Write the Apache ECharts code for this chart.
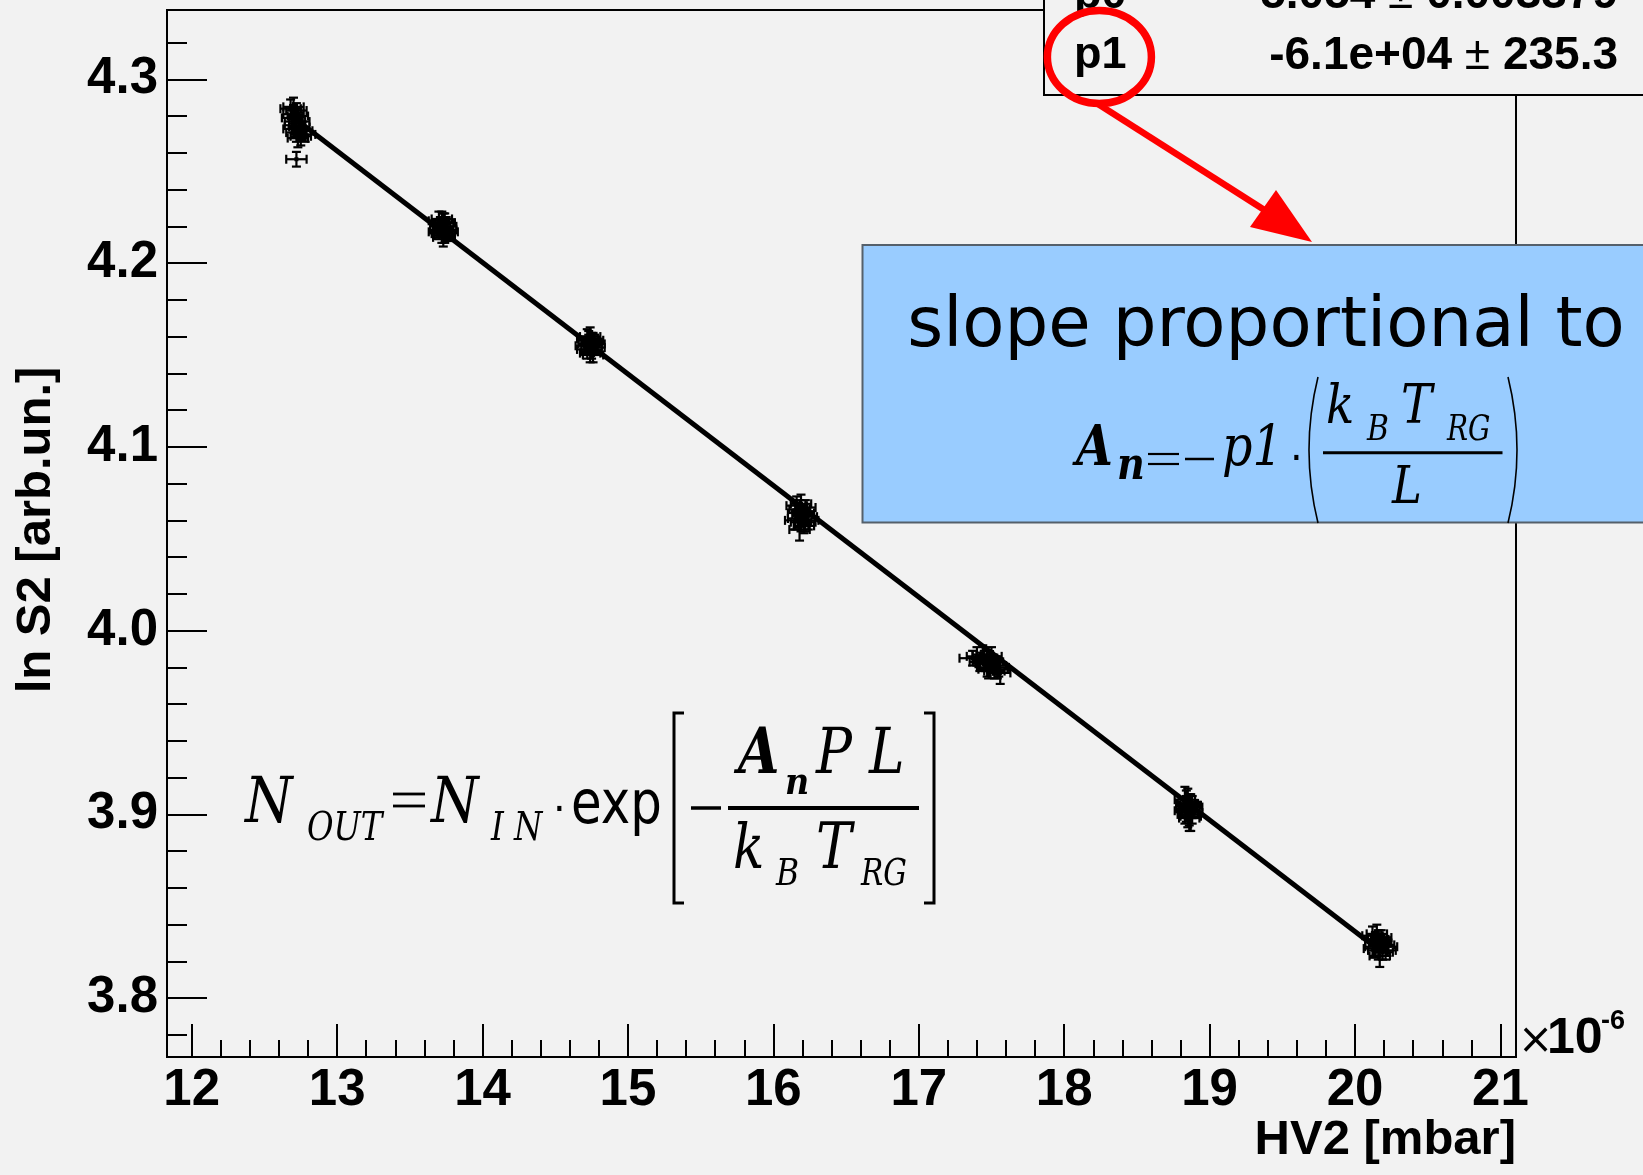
<!DOCTYPE html>
<html><head><meta charset="utf-8">
<script src="https://cdn.jsdelivr.net/npm/echarts@6/dist/echarts.min.js"></script>
<style>html,body{margin:0;padding:0;background:#f2f2f2}#c{width:1643px;height:1175px}</style>
</head><body><div id="c"></div>
<script>
// ---- data (HV2 in 1e-6 mbar, ln S2) ----
const hv2 = [
 12.68,12.70,12.72,12.69,12.71,12.73,12.70,12.72,12.74,12.76,12.75,12.78,12.72,12.70,12.74,12.71,12.73,
 13.70,13.72,13.74,13.71,13.73,13.75,13.72,13.74,13.76,13.70,13.73,13.71,13.75,13.73,
 14.72,14.74,14.76,14.73,14.75,14.77,14.72,14.74,14.76,14.75,14.73,14.75,14.77,14.71,
 16.16,16.19,16.22,16.17,16.20,16.23,16.15,16.19,16.21,16.24,16.18,16.18,16.21,16.17,16.22,
 17.37,17.40,17.44,17.47,17.50,17.42,17.46,17.49,17.53,17.48,17.52,17.56,17.55,17.45,17.51,17.47,17.54,
 18.83,18.85,18.87,18.84,18.86,18.88,18.85,18.87,18.83,18.86,18.84,18.88,18.86,
 20.12,20.15,20.18,20.14,20.17,20.20,20.13,20.16,20.19,20.22,20.17,20.16,20.18,20.14,20.21
];
const lnS2 = [
 4.284,4.285,4.283,4.279,4.277,4.280,4.273,4.271,4.274,4.272,4.269,4.270,4.2565,4.281,4.277,4.275,4.268,
 4.223,4.224,4.222,4.220,4.219,4.220,4.216,4.215,4.217,4.217,4.222,4.218,4.218,4.214,
 4.159,4.160,4.158,4.156,4.155,4.154,4.153,4.151,4.150,4.157,4.158,4.152,4.156,4.155,
 4.068,4.069,4.067,4.064,4.063,4.062,4.060,4.059,4.057,4.060,4.055,4.066,4.064,4.061,4.059,
 3.985,3.986,3.987,3.985,3.986,3.983,3.982,3.983,3.981,3.979,3.978,3.977,3.980,3.984,3.983,3.980,3.979,
 3.908,3.906,3.905,3.903,3.902,3.904,3.900,3.899,3.902,3.905,3.906,3.901,3.898,
 3.834,3.835,3.833,3.831,3.830,3.829,3.827,3.826,3.825,3.828,3.823,3.832,3.830,3.828,3.826
];
const hv2Err = [
 0.07,0.07,0.07,0.07,0.07,0.07,0.07,0.07,0.07,0.07,0.07,0.07,0.07,0.07,0.07,0.07,0.07,
 0.07,0.07,0.07,0.07,0.07,0.07,0.07,0.07,0.07,0.07,0.07,0.07,0.07,0.07,
 0.07,0.07,0.07,0.07,0.07,0.07,0.07,0.07,0.07,0.07,0.07,0.07,0.07,0.07,
 0.07,0.07,0.07,0.07,0.07,0.07,0.07,0.07,0.07,0.07,0.07,0.07,0.07,0.07,0.07,
 0.09,0.07,0.07,0.07,0.07,0.07,0.07,0.07,0.07,0.07,0.07,0.07,0.07,0.07,0.07,0.07,0.07,
 0.07,0.07,0.07,0.07,0.07,0.07,0.07,0.07,0.07,0.07,0.07,0.07,0.07,
 0.07,0.07,0.07,0.07,0.07,0.07,0.07,0.07,0.07,0.07,0.07,0.07,0.07,0.07,0.07
];
const lnS2Err = [
 0.005,0.005,0.004,0.005,0.005,0.004,0.005,0.005,0.004,0.005,0.005,0.004,0.004,0.005,0.005,0.004,0.005,
 0.005,0.004,0.005,0.005,0.004,0.005,0.005,0.004,0.005,0.004,0.005,0.004,0.005,0.005,
 0.005,0.005,0.004,0.005,0.005,0.004,0.005,0.005,0.004,0.005,0.005,0.004,0.005,0.005,
 0.005,0.005,0.004,0.005,0.005,0.004,0.005,0.005,0.004,0.005,0.006,0.005,0.004,0.005,0.005,
 0.004,0.005,0.005,0.004,0.005,0.005,0.004,0.005,0.005,0.005,0.004,0.006,0.005,0.005,0.004,0.005,0.005,
 0.007,0.008,0.006,0.007,0.008,0.006,0.007,0.008,0.007,0.006,0.007,0.006,0.007,
 0.005,0.005,0.004,0.005,0.005,0.004,0.005,0.005,0.004,0.005,0.006,0.005,0.004,0.005,0.005
];
const fitHV2 = [12.72, 20.17];
const fitLnS2 = [4.278, 3.826];
const xMajorTicks = [12,13,14,15,16,17,18,19,20,21];
const yMajorTicks = [3.8,3.9,4.0,4.1,4.2,4.3];
const yTickLabels = ['3.8','3.9','4.0','4.1','4.2','4.3'];
const statsNames = ['p0','p1'];
const statsValues = ['5.054','-6.1e+04'];
const statsErrors = ['0.003379','235.3'];

const xMinorTicks = [];
for (let i = 0; i < xMajorTicks.length - 1; i++) for (let k = 1; k < 5; k++) xMinorTicks.push(+(xMajorTicks[i] + k*0.2).toFixed(2));
const yMinorTicks = [];
for (let v = 3.78; v < 4.33; v += 0.02) { const r = +v.toFixed(2); if (Math.abs(r*10 - Math.round(r*10)) > 1e-6) yMinorTicks.push(r); }

const pts = hv2.map((x,i)=>[x, lnS2[i], hv2Err[i], lnS2Err[i]]);
const fitLine = fitHV2.map((x,i)=>[x, fitLnS2[i]]);

const SANS = 'Liberation Sans';
const SERIF = 'DejaVu Serif';
function T(text, x, base, size, o) {
  o = o || {};
  return { type:'text', x:x, y: base - 0.346*size, scaleX: o.sx || 1, z: o.z || 30,
    style:{ text:text, fontSize:size, fontFamily:o.family || SERIF, fontStyle:o.style || 'italic',
      fontWeight:o.weight || 'normal', fill:o.fill || '#000', align:o.align || 'left', verticalAlign:'middle' } };
}
function L(x1,y1,x2,y2,w,color,z){ return {type:'line', z:z||30, shape:{x1,y1,x2,y2}, style:{stroke:color||'#000', lineWidth:w}}; }

const chart = echarts.init(document.getElementById('c'));
const tickStyle = {color:'#000', width:2};
const labelStyle = {fontSize:51, fontWeight:'bold', fontFamily:SANS, color:'#000'};
const X0 = 11.83, X1 = 21.107, Y0 = 3.768, Y1 = 4.3377;

const graphics = [
  // axis titles
  {type:'text', x:1516, y:1140, z:30, style:{text:'HV2 [mbar]', fontSize:49, fontWeight:'bold', fontFamily:SANS, fill:'#000', align:'right', verticalAlign:'middle'}},
  {type:'text', x:36, y:530, rotation:Math.PI/2, z:30, style:{text:'ln S2 [arb.un.]', fontSize:49, fontWeight:'bold', fontFamily:SANS, fill:'#000', align:'center', verticalAlign:'middle'}},
  T('×', 1518, 1057, 42, {family:'DejaVu Sans', style:'normal'}),
  T('10', 1547, 1057, 50, {family:SANS, style:'normal', weight:'bold'}),
  T('-6', 1601, 1031, 27, {family:SANS, style:'normal', weight:'bold'}),
  // stats box
  {type:'rect', z:20, shape:{x:1044, y:-120, width:700, height:215}, style:{fill:'#f2f2f2', stroke:'#000', lineWidth:2}},
  T(statsNames[0], 1074, 11, 45, {family:SANS, style:'normal', weight:'bold'}),
  T(statsNames[1], 1074, 71.5, 45, {family:SANS, style:'normal', weight:'bold'}),
  {type:'text', x:1618, y:11 - 0.346*45, z:30, style:{text:'{b|'+statsValues[0]+' }{n|±}{b| '+statsErrors[0]+'}', align:'right', verticalAlign:'middle',
     rich:{b:{fontSize:46, fontWeight:'bold', fontFamily:SANS, fill:'#000'}, n:{fontSize:46, fontFamily:SANS, fill:'#000'}}}},
  {type:'text', x:1618, y:71.5 - 0.346*45, z:30, style:{text:'{b|'+statsValues[1]+' }{n|±}{b| '+statsErrors[1]+'}', align:'right', verticalAlign:'middle',
     rich:{b:{fontSize:46, fontWeight:'bold', fontFamily:SANS, fill:'#000'}, n:{fontSize:46, fontFamily:SANS, fill:'#000'}}}},
  // red circle & arrow
  {type:'ellipse', z:40, shape:{cx:1099.4, cy:57, rx:52, ry:46.5}, style:{fill:null, stroke:'#ff0000', lineWidth:7.5}},
  L(1098, 104, 1266, 211, 6.5, '#ff0000', 40),
  {type:'polygon', z:40, shape:{points:[[1312,242],[1250,227],[1276,190]]}, style:{fill:'#ff0000'}},
  // blue box
  {type:'rect', z:20, shape:{x:862.5, y:245, width:800, height:277.5}, style:{fill:'#99ccff', stroke:'#55606b', lineWidth:2}},
  {type:'text', x:1266, y:351.7 - 0.346*69, z:30, style:{text:'slope proportional to', fontSize:69, fontFamily:'DejaVu Sans', fill:'#000', align:'center', verticalAlign:'middle'}},
  T('A', 1076, 470, 56, {weight:'bold', sx:0.85}),
  T('n', 1117, 483, 45, {weight:'bold', sx:0.85}),
  L(1148, 454, 1179, 454, 2.2), L(1148, 464, 1179, 464, 2.2),
  L(1185, 459, 1214, 459, 2.5),
  T('p1', 1222, 470, 56, {sx:0.85}),
  T('·', 1290, 475, 40, {style:'normal', family:'DejaVu Sans'}),
  {type:'bezierCurve', z:30, shape:{x1:1318, y1:377, x2:1318, y2:523, cpx1:1300, cpy1:450}, style:{stroke:'#000', lineWidth:1.6, fill:null}},
  {type:'bezierCurve', z:30, shape:{x1:1508, y1:377, x2:1508, y2:523, cpx1:1526, cpy1:450}, style:{stroke:'#000', lineWidth:1.6, fill:null}},
  T('k', 1326, 428, 55, {sx:0.85}),
  T('B', 1367, 443, 35, {sx:0.85}),
  T('T', 1401, 428, 55, {sx:0.85}),
  T('RG', 1447, 443, 35, {sx:0.8}),
  L(1323, 452.7, 1502.5, 452.7, 3),
  T('L', 1392, 508, 53, {sx:0.85}),
  // main formula
  T('N', 245, 828, 64, {sx:0.85}),
  T('OUT', 307, 843, 39, {sx:0.83}),
  L(393, 794, 425, 794, 2.8), L(393, 806, 425, 806, 2.8),
  T('N', 431, 828, 64, {sx:0.85}),
  T('I N', 491, 843, 39, {sx:0.83}),
  T('·', 553, 826, 40, {style:'normal', family:'DejaVu Sans'}),
  T('exp', 571, 828.3, 60, {style:'normal', family:'DejaVu Sans', sx:0.83}),
  {type:'polyline', z:30, shape:{points:[[684,713],[674,713],[674,903],[684,903]]}, style:{stroke:'#000', lineWidth:3, fill:null}},
  {type:'polyline', z:30, shape:{points:[[924,713],[934,713],[934,903],[924,903]]}, style:{stroke:'#000', lineWidth:3, fill:null}},
  L(691, 808, 721, 808, 3.5),
  L(728, 808, 919, 808, 4),
  T('A', 738, 778, 63, {weight:'bold', sx:0.85}),
  T('n', 785, 796.7, 37, {weight:'bold', sx:0.9}),
  T('P', 816, 778, 63, {sx:0.85}),
  T('L', 869, 778, 63, {sx:0.85}),
  T('k', 733, 873, 61, {sx:0.85}),
  T('B', 776, 888, 37, {sx:0.85}),
  T('T', 816, 873, 63, {sx:0.85}),
  T('RG', 861, 888, 37, {sx:0.8})
];

chart.setOption({
  backgroundColor:'#f2f2f2',
  animation:false,
  grid:{left:167, top:10, width:1349, height:1047, show:true, borderColor:'#000', borderWidth:2, backgroundColor:'transparent'},
  xAxis:[
    {type:'value', min:X0, max:X1, position:'bottom', splitLine:{show:false}, axisLine:{show:false},
     axisTick:{show:true, inside:true, length:33, lineStyle:tickStyle, customValues:xMajorTicks},
     axisLabel:Object.assign({show:true, margin:8, customValues:xMajorTicks, formatter:v=>String(Math.round(v))}, labelStyle)},
    {type:'value', min:X0, max:X1, position:'bottom', splitLine:{show:false}, axisLine:{show:false},
     axisTick:{show:true, inside:true, length:17, lineStyle:tickStyle, customValues:xMinorTicks},
     axisLabel:{show:false}}
  ],
  yAxis:[
    {type:'value', min:Y0, max:Y1, position:'left', splitLine:{show:false}, axisLine:{show:false},
     axisTick:{show:true, inside:true, length:40, lineStyle:tickStyle, customValues:yMajorTicks},
     axisLabel:Object.assign({show:true, margin:9, customValues:yMajorTicks,
       formatter:v=>{const i=yMajorTicks.findIndex(t=>Math.abs(t-v)<1e-6); return i>=0?yTickLabels[i]:v.toFixed(1);}}, labelStyle)},
    {type:'value', min:Y0, max:Y1, position:'left', splitLine:{show:false}, axisLine:{show:false},
     axisTick:{show:true, inside:true, length:20, lineStyle:tickStyle, customValues:yMinorTicks},
     axisLabel:{show:false}}
  ],
  series:[
    {type:'line', data:fitLine, xAxisIndex:0, yAxisIndex:0, symbol:'none', lineStyle:{color:'#000', width:5}, z:3},
    {type:'custom', data:pts, xAxisIndex:0, yAxisIndex:0, z:4,
     renderItem:function(params, api){
       const x=api.value(0), y=api.value(1), ex=api.value(2), ey=api.value(3);
       const c=api.coord([x,y]), l=api.coord([x-ex,y]), r=api.coord([x+ex,y]), t=api.coord([x,y+ey]), b=api.coord([x,y-ey]);
       const cap=4.5, st={stroke:'#000', lineWidth:2.2};
       return {type:'group', children:[
         {type:'line', shape:{x1:l[0],y1:c[1],x2:r[0],y2:c[1]}, style:st},
         {type:'line', shape:{x1:l[0],y1:c[1]-cap,x2:l[0],y2:c[1]+cap}, style:st},
         {type:'line', shape:{x1:r[0],y1:c[1]-cap,x2:r[0],y2:c[1]+cap}, style:st},
         {type:'line', shape:{x1:c[0],y1:t[1],x2:c[0],y2:b[1]}, style:st},
         {type:'line', shape:{x1:c[0]-cap,y1:t[1],x2:c[0]+cap,y2:t[1]}, style:st},
         {type:'line', shape:{x1:c[0]-cap,y1:b[1],x2:c[0]+cap,y2:b[1]}, style:st},
         {type:'rect', shape:{x:c[0]-2,y:c[1]-2,width:4,height:4}, style:{fill:'#000'}}
       ]};
     }}
  ],
  graphic:graphics
});
</script></body></html>
